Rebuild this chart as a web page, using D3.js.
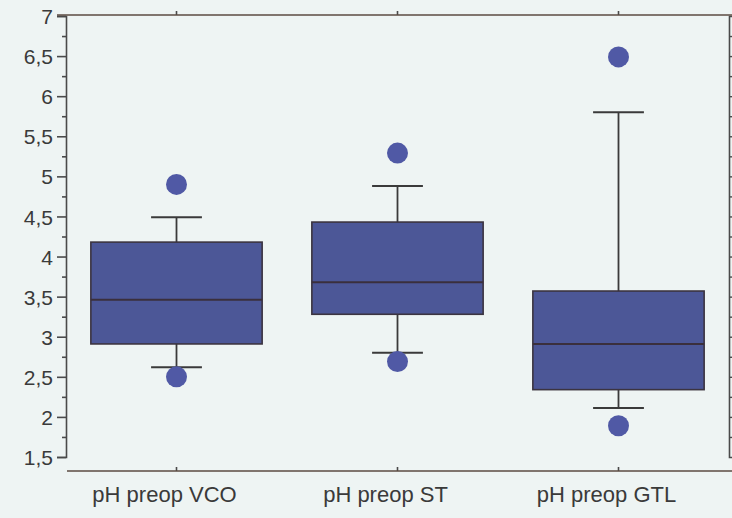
<!DOCTYPE html>
<html>
<head>
<meta charset="utf-8">
<script src="https://cdn.jsdelivr.net/npm/d3@7"></script>
<style>
  html, body { margin: 0; padding: 0; background: #eef4f3; }
  svg { display: block; }
  text { font-family: "Liberation Sans", Arial, sans-serif; fill: #3a3a3a; }
</style>
</head>
<body>
<svg id="chart" width="732" height="518"></svg>
<script>
// Preoperative pH per group: box-and-whisker summary
const categories = ["pH preop VCO", "pH preop ST", "pH preop GTL"];
const q1 = [2.91, 3.28, 2.34];
const median = [3.46, 3.68, 2.91];
const q3 = [4.18, 4.43, 3.57];
const whiskerLow = [2.62, 2.80, 2.11];
const whiskerHigh = [4.49, 4.88, 5.80];
const outliers = [[4.90, 2.50], [5.29, 2.69], [6.49, 1.89]];
const yTicks = [1.5, 2, 2.5, 3, 3.5, 4, 4.5, 5, 5.5, 6, 6.5, 7];

const svg = d3.select("#chart");
const W = 732, H = 518;
const plotLeft = 66, plotRight = 729, plotTop = 15, plotBottom = 457, baseY = 471;

const x = d3.scaleBand().domain(categories).range([plotLeft, plotRight]).padding(0);
const y = d3.scaleLinear().domain([1.5, 7]).range([plotBottom, plotTop + 1]);

const boxW = x.bandwidth() * 0.775;
const capW = x.bandwidth() * 0.23;
const cx = c => x(c) + x.bandwidth() / 2;

const fmt = v => String(v).replace(".", ",");
const axisColor = "#4a4a4a";

// Left value axis with labels, plus quarter-step minor ticks
const yAxis = svg.append("g").attr("transform", `translate(${plotLeft},0)`)
  .call(d3.axisLeft(y).tickValues(yTicks).tickFormat(fmt).tickSize(9).tickPadding(4));
yAxis.select(".domain").attr("stroke", axisColor).attr("stroke-width", 1.6);
yAxis.selectAll(".tick line").attr("stroke", axisColor).attr("stroke-width", 1.6);
yAxis.selectAll(".tick text").style("font-size", "21px").attr("fill", "#3a3a3a").attr("dy", "0.36em");

const minor = d3.range(1.75, 7, 0.5);
svg.append("g").attr("transform", `translate(${plotLeft},0)`)
  .call(d3.axisLeft(y).tickValues(minor).tickFormat("").tickSize(4))
  .call(g => g.select(".domain").remove())
  .selectAll(".tick line").attr("stroke", axisColor).attr("stroke-width", 1.6);

// Right frame axis: unlabeled quarter-step ticks
const rAxis = svg.append("g").attr("transform", `translate(${plotRight},0)`)
  .call(d3.axisRight(y).tickValues(d3.range(1.75, 7, 0.25)).tickFormat("").tickSize(6));
rAxis.select(".domain").attr("stroke", axisColor).attr("stroke-width", 1.6);
rAxis.selectAll(".tick line").attr("stroke", axisColor).attr("stroke-width", 1.4);

// Top frame line with category ticks
const tAxis = svg.append("g").attr("transform", `translate(0,${plotTop})`)
  .call(d3.axisTop(x).tickFormat("").tickSize(4).tickSizeOuter(0));
tAxis.select(".domain").remove();
svg.append("line").attr("x1", 57).attr("x2", W).attr("y1", plotTop).attr("y2", plotTop)
  .attr("stroke", "#5b4b42").attr("stroke-width", 1.6);
tAxis.selectAll(".tick line").attr("stroke", axisColor).attr("stroke-width", 1.6);

// Bottom category axis
const bAxis = svg.append("g").attr("transform", `translate(0,${baseY})`)
  .call(d3.axisBottom(x).tickSize(-4).tickSizeOuter(0));
bAxis.select(".domain").remove();
svg.append("line").attr("x1", plotLeft + 1).attr("x2", W).attr("y1", baseY).attr("y2", baseY)
  .attr("stroke", "#5b4b42").attr("stroke-width", 1.6);
bAxis.selectAll(".tick line").attr("stroke", axisColor).attr("stroke-width", 1.6);
bAxis.selectAll(".tick text").style("font-size", "22px").attr("fill", "#3a3a3a")
  .attr("dx", -12).attr("y", 15).attr("dy", "0.71em");

// Boxes
const groups = svg.append("g").selectAll("g").data(categories).join("g");

groups.append("line")
  .attr("x1", cx).attr("x2", cx)
  .attr("y1", (c, i) => y(whiskerHigh[i])).attr("y2", (c, i) => y(whiskerLow[i]))
  .attr("stroke", "#3a3a3a").attr("stroke-width", 1.8);

groups.selectAll(".cap").data((c, i) => [whiskerLow[i], whiskerHigh[i]].map(v => ({ c, v })))
  .join("line").attr("class", "cap")
  .attr("x1", d => cx(d.c) - capW / 2).attr("x2", d => cx(d.c) + capW / 2)
  .attr("y1", d => y(d.v)).attr("y2", d => y(d.v))
  .attr("stroke", "#3a3a3a").attr("stroke-width", 2);

groups.append("rect")
  .attr("x", c => cx(c) - boxW / 2).attr("width", boxW)
  .attr("y", (c, i) => y(q3[i])).attr("height", (c, i) => y(q1[i]) - y(q3[i]))
  .attr("fill", "#4c5797").attr("stroke", "#3b3440").attr("stroke-width", 1.6);

groups.append("line")
  .attr("x1", c => cx(c) - boxW / 2).attr("x2", c => cx(c) + boxW / 2)
  .attr("y1", (c, i) => y(median[i])).attr("y2", (c, i) => y(median[i]))
  .attr("stroke", "#3a2f3c").attr("stroke-width", 2);

groups.selectAll(".out").data((c, i) => outliers[i].map(v => ({ c, v })))
  .join("circle").attr("class", "out")
  .attr("cx", d => cx(d.c)).attr("cy", d => y(d.v)).attr("r", 10.5)
  .attr("fill", "#5059a5");
</script>
</body>
</html>
